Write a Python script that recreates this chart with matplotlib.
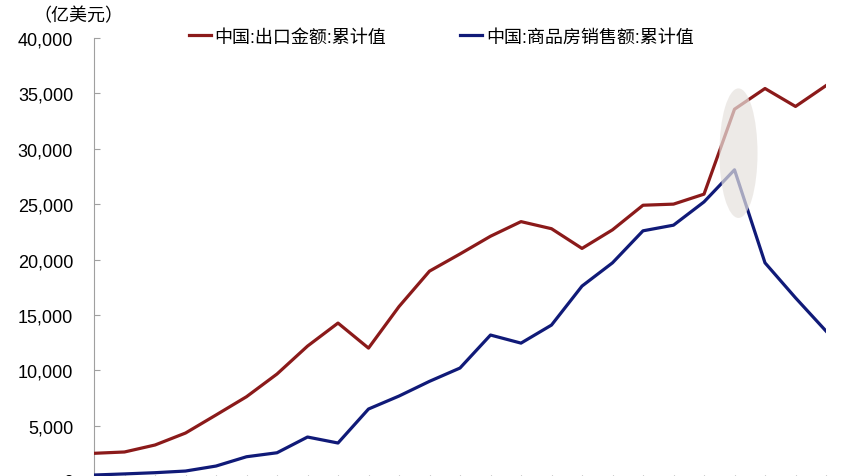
import matplotlib
matplotlib.use("Agg")
from matplotlib import pyplot as plt
from matplotlib.patches import Ellipse
from matplotlib.ticker import FuncFormatter

plt.rcParams['font.family'] = ['Liberation Sans', 'Noto Sans CJK SC', 'DejaVu Sans']

years = list(range(2000, 2025))
exports = [2500, 2620, 3250, 4330, 5960, 7610, 9660, 12180, 14260, 12000,
           15750, 18950, 20500, 22100, 23420, 22780, 21000, 22680, 24900, 25000,
           25900, 33570, 35440, 33820, 35700]
housing = [540, 640, 750, 900, 1350, 2190, 2550, 3970, 3430, 6500,
           7670, 9000, 10200, 13180, 12450, 14080, 17600, 19700, 22590, 23100,
           25200, 28100, 19700, 16540, 13540]

label_exp = "中国:出口金额:累计值"
label_house = "中国:商品房销售额:累计值"
unit_text = "（亿美元）"

fig = plt.figure(figsize=(8.48, 4.77), dpi=100)
W, H = 848, 477
ax = fig.add_axes([94 / W, 1 - 482 / H, (826 - 94) / W, (482 - 39) / H])

ax.plot(years, exports, color="#8b1a1a", lw=2.3, label=label_exp, zorder=3)
ax.plot(years, housing, color="#101a78", lw=2.3, label=label_house, zorder=3)

# highlight around the 2021 turning point
ell = Ellipse((years[21] + 0.13, 29600), width=1.25, height=11700,
              facecolor="#e6e2de", edgecolor="none", alpha=0.7, zorder=4)
ax.add_patch(ell)

ax.set_xlim(years[0], years[-1])
ax.set_ylim(0, 40000)
ax.set_yticks(range(0, 40001, 5000))
ax.yaxis.set_major_formatter(FuncFormatter(lambda v, p: f"{int(v):,}"))
ax.set_xticks(years)
ax.set_xticklabels([])

for s in ["top", "right"]:
    ax.spines[s].set_visible(False)
ax.spines["left"].set_color("#a0a0a0")
ax.spines["bottom"].set_color("#a0a0a0")
ax.tick_params(axis="y", direction="in", length=4, color="#a0a0a0",
               labelsize=13, pad=15)
ax.tick_params(axis="x", direction="in", length=4, color="#a0a0a0")

fig.text(33 / W, 1 - 17 / H, unit_text, fontsize=13, va="center", ha="left")

ax.legend(loc="center left", bbox_to_anchor=(189 / W, 1 - 38 / H),
          bbox_transform=fig.transFigure, ncol=2, frameon=False,
          fontsize=13, handlelength=1.2, handletextpad=0.22,
          columnspacing=4.1, borderaxespad=0, borderpad=0)

fig.savefig("out.png", dpi=100)
